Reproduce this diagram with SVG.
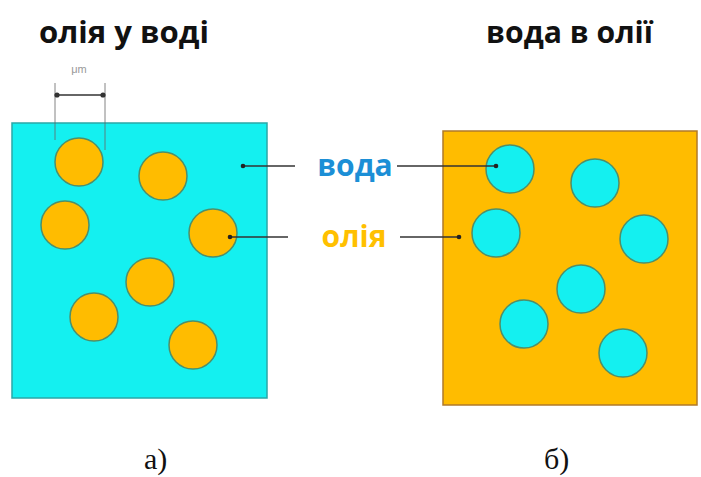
<svg xmlns="http://www.w3.org/2000/svg" width="701" height="477" viewBox="0 0 701 477">
  <style>
    .title { font-family: "Open Sans", "Liberation Sans", sans-serif; font-weight: bold; font-size: 31px; fill: #111111; }
    .cap { font-family: "Liberation Serif", serif; font-size: 30px; fill: #111111; }
    .lbl { font-family: "Open Sans", "Liberation Sans", sans-serif; font-weight: bold; font-size: 30px; }
    .water { fill: #14F0F0; }
    .oil { fill: #FFBC00; }
    .drop { stroke: #4E8F6A; stroke-width: 1.5; }
    .lead { stroke: #333333; stroke-width: 1.3; fill: none; }
    .dot { fill: #222222; }
    .dim { stroke: #666666; stroke-width: 0.8; fill: none; }
  </style>
  <defs>
    <marker id="tick" markerWidth="6" markerHeight="6" refX="3" refY="3" orient="auto">
      <circle cx="3" cy="3" r="2" fill="#333333"/>
    </marker>
  </defs>

  <rect width="701" height="477" fill="#ffffff"/>

  <!-- titles -->
  <text class="title" x="39" y="43" textLength="170" lengthAdjust="spacingAndGlyphs">олія у воді</text>
  <text class="title" x="486" y="43" textLength="167" lengthAdjust="spacingAndGlyphs">вода в олії</text>

  <!-- a) oil droplets in water -->
  <g id="panel-a">
    <rect x="12" y="123" width="255" height="275" class="water" stroke="#2AA8A8" stroke-width="1.5"/>
    <g class="oil drop">
      <circle cx="79" cy="162" r="24"/>
      <circle cx="163" cy="176" r="24"/>
      <circle cx="65" cy="225" r="24"/>
      <circle cx="213" cy="233" r="24"/>
      <circle cx="150" cy="282" r="24"/>
      <circle cx="94" cy="317" r="24"/>
      <circle cx="193" cy="345" r="24"/>
    </g>
    <!-- droplet size dimension -->
    <g id="dimension">
      <line class="dim" x1="55" y1="83" x2="55" y2="140"/>
      <line class="dim" x1="105" y1="83" x2="105" y2="150"/>
      <line class="lead" x1="57" y1="95" x2="103" y2="95" marker-start="url(#tick)" marker-end="url(#tick)"/>
      <text x="79" y="73" text-anchor="middle" font-family="Liberation Sans, sans-serif" font-size="11" fill="#999999">μm</text>
    </g>
  </g>

  <!-- б) water droplets in oil -->
  <g id="panel-b">
    <rect x="443" y="131" width="254" height="274" class="oil" stroke="#B07A2A" stroke-width="1.5"/>
    <g class="water drop">
      <circle cx="510" cy="169" r="24"/>
      <circle cx="595" cy="183" r="24"/>
      <circle cx="496" cy="233" r="24"/>
      <circle cx="644" cy="239" r="24"/>
      <circle cx="581" cy="289" r="24"/>
      <circle cx="524" cy="324" r="24"/>
      <circle cx="623" cy="353" r="24"/>
    </g>
  </g>

  <!-- labels -->
  <g id="label-water">
    <text class="lbl" x="355" y="176" text-anchor="middle" fill="#1C8FD6">вода</text>
  </g>
  <g id="label-oil">
    <text class="lbl" x="354" y="247" text-anchor="middle" fill="#FFC000">олія</text>
  </g>

  <!-- leader lines -->
  <g id="connectors">
    <line class="lead" x1="243" y1="166" x2="295" y2="166"/>
    <circle class="dot" cx="243" cy="166" r="2.3"/>
    <line class="lead" x1="397" y1="166" x2="496" y2="166"/>
    <circle class="dot" cx="496" cy="166" r="2.3"/>
    <line class="lead" x1="230" y1="237" x2="288" y2="237"/>
    <circle class="dot" cx="230" cy="237" r="2.3"/>
    <line class="lead" x1="400" y1="237" x2="459" y2="237"/>
    <circle class="dot" cx="459" cy="237" r="2.3"/>
  </g>

  <!-- captions -->
  <text class="cap" x="144" y="469">а)</text>
  <text class="cap" x="544" y="469">б)</text>
</svg>
